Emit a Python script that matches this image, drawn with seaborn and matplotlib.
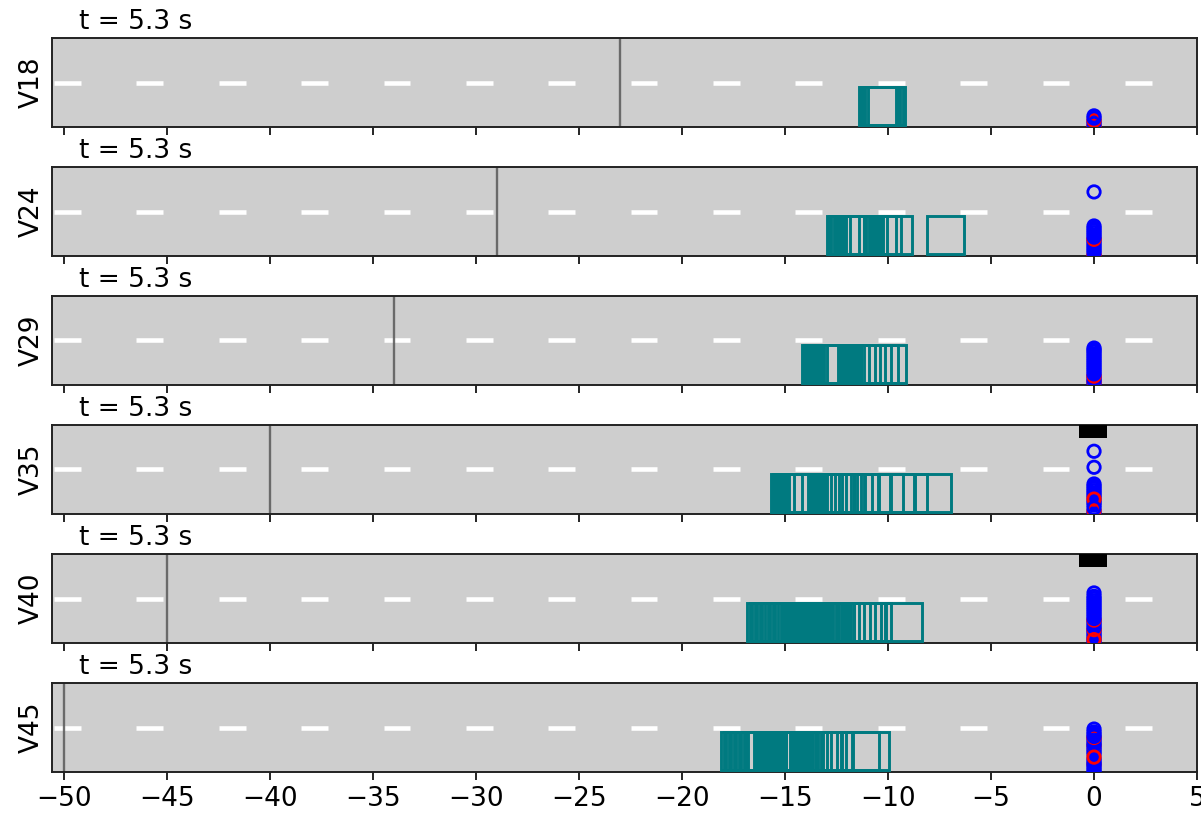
import numpy as np
import matplotlib
matplotlib.use("Agg")
import matplotlib.pyplot as plt
from matplotlib.patches import Rectangle
import pandas as pd
import seaborn as sns

# ---------------------------------------------------------------- data
vehicles = ["V18", "V24", "V29", "V35", "V40", "V45"]
time_label = "t = 5.3 s"
x_ticks = [-50, -45, -40, -35, -30, -25, -20, -15, -10, -5, 0, 5]

# position of the stop line for each vehicle
stop_line_x = [-23, -29, -34, -40, -45, -50]

# rear x of the vehicle footprint at every logged step
footprint_x = [
    [-11.4, -11.3, -11.2, -11.1, -11.0],
    [-12.95, -12.85, -12.75, -12.65, -12.55, -12.45, -12.35, -12.25, -12.15,
     -12.05, -11.85, -11.4, -11.15, -10.65, -8.1],
    [-14.2, -14.1, -14.0, -13.9, -13.8, -13.7, -13.6, -13.5, -13.4, -13.3,
     -13.2, -13.1, -12.95, -12.45, -12.2, -11.95, -11.65, -11.3, -10.93],
    [-15.7, -15.6, -15.5, -15.4, -15.3, -15.2, -15.1, -15.0, -14.9, -14.8,
     -14.55, -14.2, -13.85, -13.6, -13.45, -13.3, -13.1, -12.95, -12.6,
     -12.25, -11.65, -11.1, -10.5, -9.9, -8.75],
    [-16.85, -16.72, -16.6, -16.48, -16.35, -16.22, -16.1, -15.98, -15.85,
     -15.72, -15.6, -15.48, -15.35, -15.22, -15.1, -14.98, -14.85, -14.72,
     -14.6, -14.48, -14.35, -14.22, -14.1, -13.98, -13.85, -13.75, -13.6,
     -13.45, -13.2, -12.95, -12.7, -12.45, -12.15, -11.9, -11.67, -10.13],
    [-18.1, -17.98, -17.86, -17.74, -17.62, -17.5, -17.38, -17.26, -17.14,
     -17.02, -16.9, -16.78, -16.52, -16.4, -16.28, -16.16, -16.04, -15.92,
     -15.8, -15.68, -15.56, -15.44, -15.32, -15.2, -15.08, -14.96, -14.75,
     -14.55, -14.3, -14.08, -13.85, -13.52, -12.23, -11.75],
]

# lateral offsets of the pedestrian samples at the crossing (x = 0),
# listed in drawing order, with their class
ped_y = [
    [-2.0, -1.95, -1.85, -1.75, -1.7, -1.6, -1.5],
    [-2.0, -1.95, -1.85, -1.75, -1.65, -1.55, -1.45, -1.35, -1.25, -1.25,
     -1.15, -1.05, -0.95, -0.85, -0.75, -0.65, 0.88],
    [-2.0, -1.9, -1.85, -1.8, -1.7, -1.6, -1.6, -1.5, -1.4, -1.3, -1.2, -1.1,
     -1.0, -0.9, -0.8, -0.7, -0.6, -0.5, -0.42, -0.34],
    [-2.0, -1.9, -1.6, -1.5, -1.4, -1.25, -1.15, -1.05, -0.95, -0.85, -0.75,
     -0.65, 0.1, 0.82, -1.33, -1.85, -1.73],
    [-2.0, -1.9, -1.8, -1.7, -1.6, -1.5, -1.4, -1.4, -1.3, -1.2, -1.1, -1.0,
     -0.97, -0.9, -0.8, -0.7, -0.6, -0.5, -0.4, -0.3, -0.2, -0.1, 0.0, 0.1,
     0.25, -1.85],
    [-2.0, -1.9, -1.8, -1.65, -1.7, -1.6, -1.5, -1.4, -1.2, -1.1, -1.0,
     -0.9, -0.8, -0.8, -0.7, -0.6, -0.5, -0.45, -0.4, -0.3, -0.2, -0.07,
     -1.33],
]
ped_kind = [
    ["walk", "stop", "walk", "walk", "stop", "walk", "walk"],
    ["walk", "stop", "walk", "walk", "walk", "walk", "walk", "walk", "walk",
     "stop", "walk", "walk", "walk", "walk", "walk", "walk", "walk"],
    ["walk", "walk", "stop", "walk", "walk", "walk", "stop", "walk", "walk",
     "walk", "walk", "walk", "walk", "walk", "walk", "walk", "walk", "walk",
     "walk", "walk"],
    ["walk", "walk", "walk", "walk", "walk", "walk", "walk", "walk", "walk",
     "walk", "walk", "walk", "walk", "walk", "stop", "stop", "walk"],
    ["walk", "walk", "walk", "walk", "walk", "walk", "walk", "stop", "walk",
     "walk", "walk", "walk", "stop", "walk", "walk", "walk", "walk", "walk",
     "walk", "walk", "walk", "walk", "walk", "walk", "walk", "stop"],
    ["walk", "walk", "walk", "stop", "walk", "walk", "walk", "walk", "walk",
     "walk", "walk", "walk", "stop", "walk", "walk", "walk", "walk", "stop",
     "walk", "walk", "walk", "walk", "stop"],
]

# crossing vehicle entering from the far side (rear x, None when absent)
blocker_x = [None, None, None, -0.75, -0.75, None]

# ---------------------------------------------------------------- style
road_grey = "#cecece"
car_color = "#007a80"
ped_palette = {"walk": "blue", "stop": "red"}
footprint_len = 1.8
footprint_band = (-1.9, -0.2)
blocker_len = 1.4
blocker_band = (1.4, 2.2)
dash_start, dash_len, dash_period = -50.5, 1.3, 4.0
x_range = (-50.6, 5.0)
y_range = (-2.0, 2.0)
fs = 19

sns.set_theme(style="ticks")
plt.rcParams["font.family"] = ["DejaVu Sans"]
plt.rcParams["text.color"] = "black"
plt.rcParams["axes.labelcolor"] = "black"
plt.rcParams["xtick.color"] = "black"
plt.rcParams["ytick.color"] = "black"

fig, axes = plt.subplots(len(vehicles), 1, figsize=(12.01, 8.22), dpi=100,
                         sharex=True)
fig.subplots_adjust(left=52 / 1201, right=1197 / 1201,
                    top=1 - 38 / 822, bottom=1 - 772 / 822, hspace=40 / 89)

dash_x0 = np.arange(dash_start, x_range[1], dash_period)

for i, ax in enumerate(axes):
    ax.set_facecolor(road_grey)
    ax.set_xlim(*x_range)
    ax.set_ylim(*y_range)

    # lane marking
    ax.hlines(np.zeros_like(dash_x0), dash_x0,
              np.minimum(dash_x0 + dash_len, x_range[1]),
              colors="white", linewidth=3.3, zorder=1)

    # stop line
    ax.axvline(stop_line_x[i], color="#5f5f5f", linewidth=1.7, alpha=0.9,
               zorder=2)

    # vehicle footprints
    for x0 in footprint_x[i]:
        ax.add_patch(Rectangle((x0, footprint_band[0]), footprint_len,
                               footprint_band[1] - footprint_band[0],
                               fill=False, edgecolor=car_color,
                               linewidth=2.1, zorder=3))

    # crossing vehicle
    if blocker_x[i] is not None:
        ax.add_patch(Rectangle((blocker_x[i], blocker_band[0]), blocker_len,
                               blocker_band[1] - blocker_band[0],
                               facecolor="black", edgecolor="black",
                               linewidth=0, zorder=4))

    # pedestrians at the crossing
    df = pd.DataFrame({"x": np.zeros(len(ped_y[i])), "y": ped_y[i],
                       "kind": ped_kind[i]})
    n_before = len(ax.collections)
    sns.scatterplot(data=df, x="x", y="y", hue="kind", palette=ped_palette,
                    marker="o", s=80, linewidth=2.0, legend=False, ax=ax,
                    zorder=5)
    pts = ax.collections[n_before]
    pts.set_edgecolors(pts.get_facecolors())
    pts.set_facecolors("none")

    ax.text(0.024, 1.0 + 9 / 89, time_label, transform=ax.transAxes,
            fontsize=fs, ha="left", va="baseline", color="black")
    ax.set_ylabel(vehicles[i], fontsize=fs, labelpad=5, color="black")
    ax.set_xlabel("")
    ax.set_yticks([])
    ax.set_xticks(x_ticks)
    ax.tick_params(axis="x", direction="out", length=6, width=1.2,
                   labelsize=fs, colors="black", pad=4)
    for sp in ax.spines.values():
        sp.set_visible(True)
        sp.set_color("#222222")
        sp.set_linewidth(1.4)

fig.savefig("out.png", dpi=100)
